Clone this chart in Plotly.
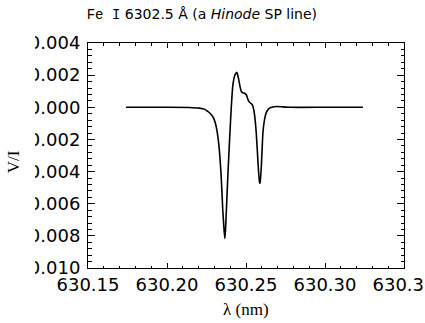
import plotly.graph_objects as go

wavelength = [630.174, 630.200, 630.214, 630.2205, 630.2240, 630.2258, 630.2275, 630.2289,
              630.2300, 630.2311, 630.2327, 630.2343, 630.2353, 630.2361, 630.2366,
              630.2370, 630.2374, 630.2385, 630.2395, 630.2406, 630.2416, 630.2424,
              630.2431, 630.2442, 630.2454, 630.2462, 630.2470, 630.2477, 630.2484,
              630.2493, 630.2502, 630.2510, 630.2518, 630.2530, 630.2540, 630.2548,
              630.2554, 630.2565, 630.2575, 630.2586, 630.2589, 630.2597, 630.2607,
              630.2615, 630.2624, 630.2635, 630.2649, 630.2670, 630.2692, 630.2776,
              630.300, 630.324]
stokes_v = [0.0, 0.0, -0.00001, -0.00005, -0.00013, -0.00026, -0.00040, -0.00057,
            -0.00080, -0.00119, -0.00223, -0.00431, -0.00639, -0.00760, -0.00816,
            -0.00770, -0.00681, -0.00431, -0.00223, -0.00015, 0.00130, 0.00180,
            0.00203, 0.00218, 0.00172, 0.00130, 0.00099, 0.00092, 0.00089,
            0.00086, 0.00078, 0.00055, 0.00037, 0.00025, 0.00016, -0.00010,
            -0.00046, -0.00160, -0.00327, -0.00472, -0.00470, -0.00368, -0.00160,
            -0.00090, -0.00046, -0.00020, -0.00005, 0.00002, 0.00005, 0.0,
            0.0, 0.0]

x_ticks = [630.15, 630.20, 630.25, 630.30, 630.35]
x_labels = ["630.15", "630.20", "630.25", "630.30", "630.35"]
y_ticks = [0.004, 0.002, 0.0, -0.002, -0.004, -0.006, -0.008, -0.010]
y_labels = ["0.004", "0.002", "0.000", "-0.002", "-0.004", "-0.006", "-0.008", "-0.010"]

x_range = [630.15, 630.35]
y_range = [-0.010, 0.004]

fig = go.Figure()
fig.add_trace(go.Scatter(x=wavelength, y=stokes_v, mode="lines",
                         line=dict(color="black", width=1.6, shape="spline", smoothing=0.5),
                         showlegend=False, hoverinfo="skip"))

tickfont = dict(family="DejaVu Sans", size=18, color="black")

fig.update_layout(
    width=425, height=323,
    margin=dict(l=88, r=21, t=43, b=55, autoexpand=False),
    paper_bgcolor="white", plot_bgcolor="white",
    title=dict(
        text='<span style="font-family:Liberation Mono">Fe I</span> 6302.5 Å (a <i>Hinode</i> SP line)',
        font=dict(family="DejaVu Sans", size=14, color="black"),
        x=0.475, xref="container", xanchor="center",
        y=1 - 14 / 323, yref="container", yanchor="middle"),
    xaxis=dict(range=x_range, tickvals=x_ticks, ticktext=x_labels, ticklabeloverflow="allow",
               automargin=False,
               showgrid=False, zeroline=False, showline=True, linecolor="black", linewidth=1,
               mirror="ticks", ticks="inside", ticklen=5, tickcolor="black", tickwidth=1,
               minor=dict(dtick=0.01, tick0=630.15, ticks="inside", ticklen=2.5,
                          tickcolor="black", tickwidth=1),
               tickfont=tickfont),
    yaxis=dict(range=y_range, tickvals=y_ticks, ticktext=y_labels, ticklabeloverflow="allow",
               ticklabelstandoff=3, automargin=False,
               showgrid=False, zeroline=False, showline=True, linecolor="black", linewidth=1,
               mirror="ticks", ticks="inside", ticklen=7, tickcolor="black", tickwidth=1,
               minor=dict(dtick=0.0004, tick0=0, ticks="inside", ticklen=3.5,
                          tickcolor="black", tickwidth=1),
               tickfont=tickfont),
    shapes=[dict(type="rect", xref="paper", yref="paper", layer="above",
                 x0=-0.5, x1=(35 - 88) / 316, y0=-0.06, y1=1.06,
                 fillcolor="white", line=dict(width=0))],
    annotations=[
        dict(text="λ (nm)", xref="paper", yref="paper", x=0.5, y=-(309 - 268) / 225,
             xanchor="center", yanchor="middle", showarrow=False,
             font=dict(family="Liberation Serif", size=17, color="black")),
        dict(text="V/I", xref="paper", yref="paper", x=(13 - 88) / 316, y=0.47,
             xanchor="center", yanchor="middle", showarrow=False, textangle=-90,
             font=dict(family="Liberation Serif", size=17, color="black")),
    ],
)

fig.write_html("out.html")
